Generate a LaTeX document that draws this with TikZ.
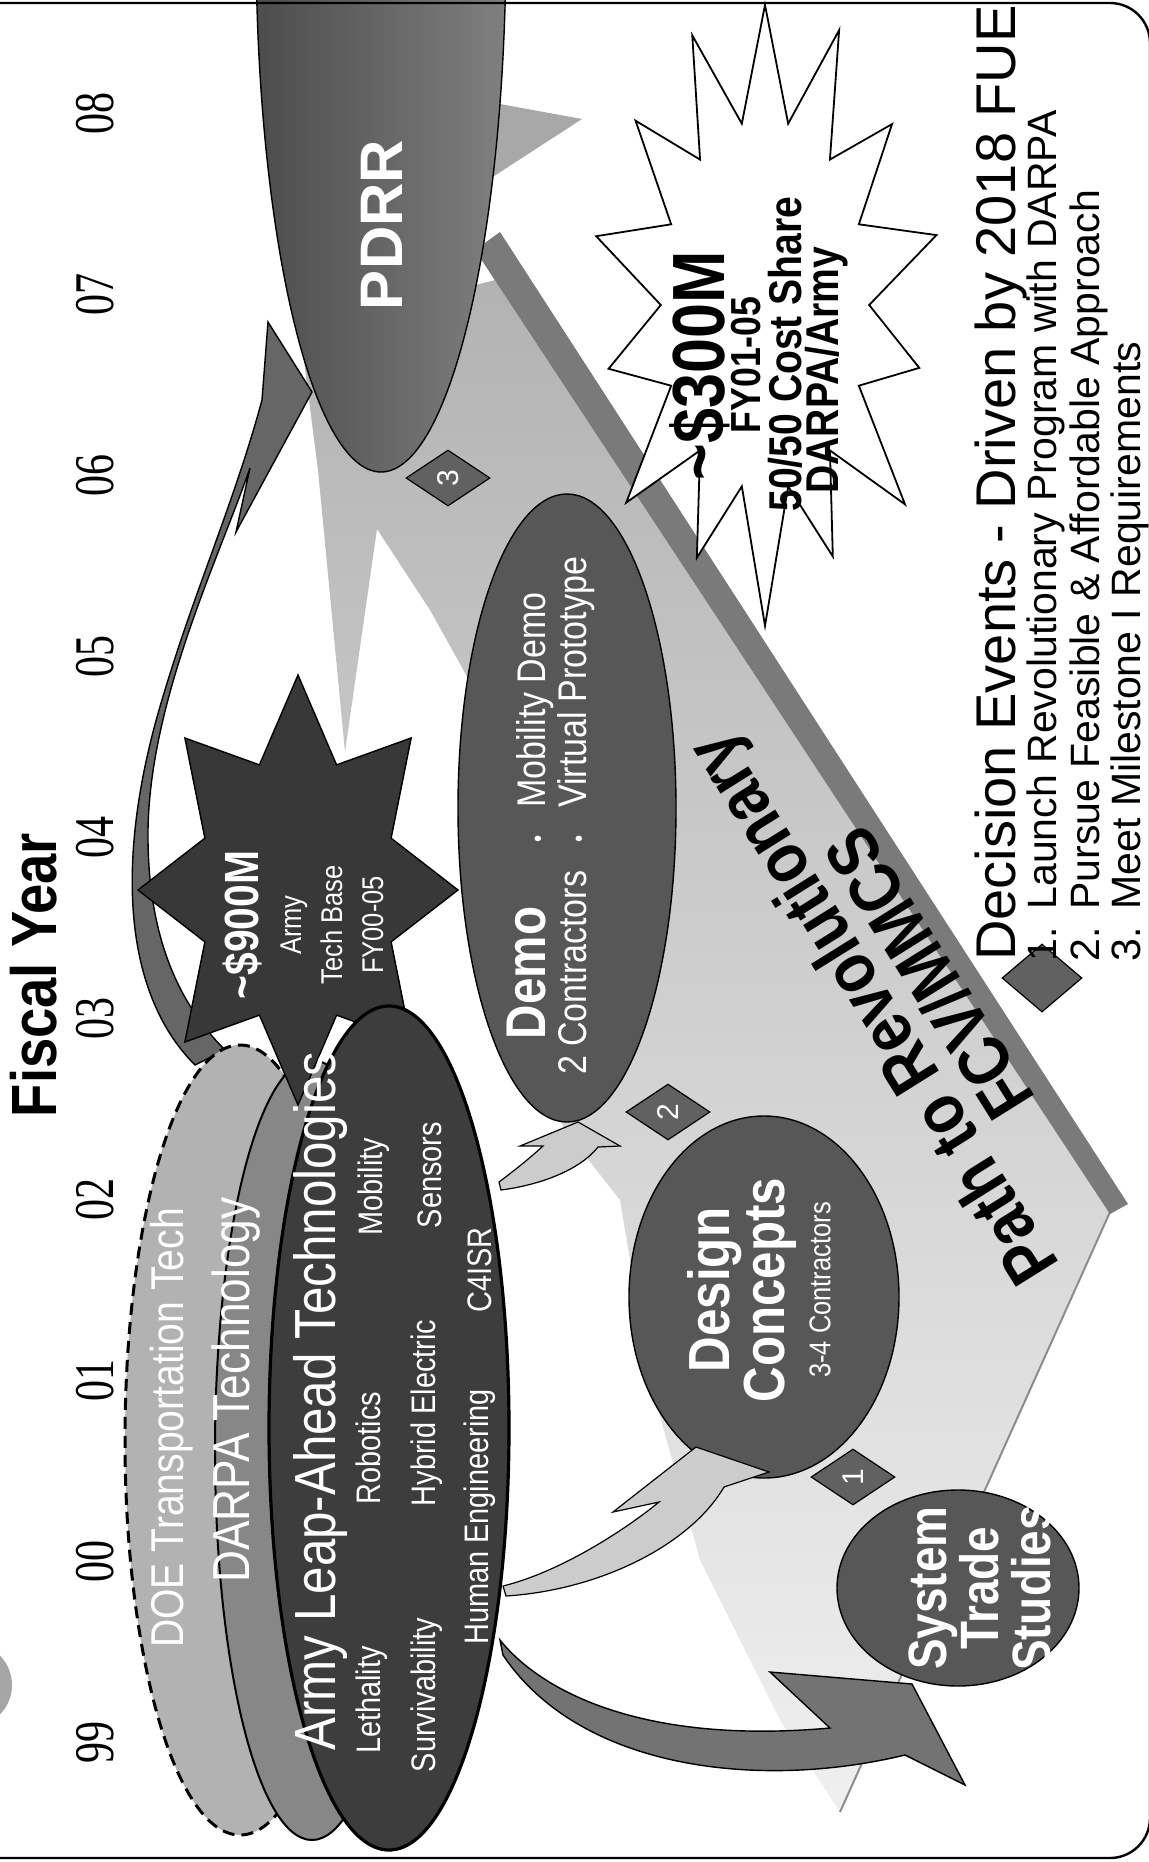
\documentclass[tikz,border=0pt]{standalone}
\usepackage{fontspec}
\setmainfont{Liberation Sans}
\newfontfamily\narrowsf{Liberation Sans}[FakeStretch=0.85]
\newfontfamily\yearfont{Liberation Serif}[FakeStretch=0.75]
\usetikzlibrary{shapes.geometric}
\newcommand\setfs[2]{\fontsize{#1}{#2}\selectfont}

\begin{document}
\begin{tikzpicture}[x=0.5pt, y=-0.5pt,
    lbl/.style={rotate=90, inner sep=0pt},
    wlbl/.style={lbl, text=white},
    oval/.style={draw=black, line width=0.7pt, fill=black!66},
    diam/.style={diamond, rotate=90, draw=black, line width=0.6pt, fill=black!62,
      minimum width=28pt, minimum height=42pt, inner sep=0pt, text=white,
      font=\setfs{15}{15}},
    darkflow/.style={draw=black, line width=0.7pt, fill=black!60},
    lightflow/.style={draw=black, line width=0.6pt, fill=black!20},
    declare function={rs(\k)=1-0.38*mod(\k,2)+0.07*sin(\k*83)*(1-mod(\k,2));}
  ]
  \useasboundingbox (0,0) rectangle (1148,1862);

  % path band
  \shade[top color=black!30, middle color=black!22, bottom color=black!6]
    (300,330) -- (495,280) -- (1110,1212) -- (840,1812) -- (780,1720) -- (700,1560)
    -- (650,1380) -- (620,1200) -- (565,1130) -- (500,1000) -- (480,700)
    -- (430,610) -- (377,529) -- (345,752) -- (318,470) -- cycle;
  \draw[black!45, line width=1pt] (1110,1212) -- (840,1812);
  \fill[black!52] (475,250) -- (500,232) -- (1128,1204) -- (1110,1214) -- cycle;
  \fill[black!34] (478,100) -- (582,119) -- (488,180) -- cycle;

  % arrow up to PDRR
  \draw[darkflow] (195,1065) .. controls (120,990) and (115,850) .. (165,690)
    .. controls (195,590) and (235,500) .. (262,400) -- (268,322) -- (312,392)
    -- (236,532) -- (250,468) .. controls (218,560) and (150,700) .. (148,830)
    .. controls (147,930) and (175,1000) .. (225,1050) -- cycle;

  \shade[draw=black, line width=0.7pt, left color=black!70, right color=black!50]
    (381,-60) ellipse [x radius=125, y radius=532];

  % $300M burst
  \draw[line width=0.9pt, fill=white] plot[samples at={0,...,27}, variable=\k]
    ({765+168*rs(\k)*cos(-90+\k*12.857)}, {305+300*rs(\k)*sin(-90+\k*12.857)}) -- cycle;

  % technology ellipses
  \draw[oval, fill=black!30, dash pattern=on 6pt off 3.5pt, line width=1.5pt]
    (240,1440) ellipse [x radius=115, y radius=395];
  \draw[oval, fill=black!47, line width=1pt] (312,1450) ellipse [x radius=97, y radius=390];
  \draw[line width=0.7pt, fill=black!78] plot[samples at={0,...,15}, variable=\k]
    ({298+160*(1-0.37*mod(\k,2))*cos(-90+\k*22.5)}, {890+215*(1-0.37*mod(\k,2))*sin(-90+\k*22.5)}) -- cycle;
  \draw[oval, fill=black!76, line width=1.6pt] (389,1428) ellipse [x radius=120, y radius=422];

  % phase ellipses
  \draw[oval] (567,808) ellipse [x radius=109, y radius=314];
  \draw[oval] (764,1297) ellipse [x radius=135, y radius=181];
  \draw[oval] (958,1588) ellipse [x radius=121, y radius=98];

  % arrows into phases
  \draw[darkflow, fill=black!55] (500,1640) .. controls (540,1690) and (640,1745) .. (830,1728)
    -- (770,1672) -- (912,1684) -- (965,1785) -- (905,1755)
    .. controls (760,1790) and (580,1770) .. (503,1655) -- cycle;
  \draw[lightflow] (503,1586) .. controls (560,1572) and (625,1530) .. (659,1502)
    -- (613,1512) -- (696,1447) -- (769,1472) -- (724,1487)
    .. controls (690,1545) and (600,1590) .. (506,1596) -- cycle;
  \draw[lightflow] (499,1182) .. controls (515,1170) and (530,1158) .. (543,1146)
    -- (520,1146) -- (578,1122) -- (620,1146) -- (598,1147)
    .. controls (580,1170) and (540,1185) .. (501,1190) -- cycle;

  % decision diamonds
  \node[diam] (ev1) at (853,1477) {1};
  \node[diam] (ev2) at (668,1112) {2};
  \node[diam] (ev3) at (448,478) {3};
  \node[diam, minimum width=34pt, minimum height=40pt] (evkey) at (1042,978) {};

  % labels
  \node[lbl, font=\narrowsf\bfseries\setfs{32}{34}] (fiscal) at (34,975) {Fiscal Year};
  \foreach \yr [count=\k from 0] in {99,00,01,02,03,04,05,06,07,08}
    \node[lbl, font=\yearfont\setfs{28}{30}] (fy\yr) at (95,{1742-180.9*\k}) {\yr};

  \node[wlbl, font=\bfseries\setfs{30}{32}] (pdrr) at (382,225) {PDRR};
  \node[wlbl, font=\narrowsf\setfs{23}{25}] (doe) at (172,1428) {DOE Transportation Tech};
  \node[wlbl, font=\narrowsf\setfs{26}{28}] (darpa) at (236,1390) {DARPA Technology};
  \node[wlbl, font=\narrowsf\setfs{29}{31}] (army) at (321,1401) {Army Leap-Ahead Technologies};
  \node[wlbl, font=\narrowsf\setfs{17}{19}] (tech1) at (372,1700) {Lethality};
  \node[wlbl, font=\narrowsf\setfs{17}{19}] (tech2) at (368,1448) {Robotics};
  \node[wlbl, font=\narrowsf\setfs{17}{19}] (tech3) at (374,1187) {Mobility};
  \node[wlbl, font=\narrowsf\setfs{17}{19}] (tech4) at (427,1695) {Survivability};
  \node[wlbl, font=\narrowsf\setfs{17}{19}] (tech5) at (427,1413) {Hybrid Electric};
  \node[wlbl, font=\narrowsf\setfs{17}{19}] (tech6) at (430,1175) {Sensors};
  \node[wlbl, font=\narrowsf\setfs{17}{19}] (tech7) at (480,1517) {Human Engineering};
  \node[wlbl, font=\narrowsf\setfs{17}{19}] (tech8) at (480,1270) {C4ISR};

  \node[wlbl, align=center, font=\narrowsf\setfs{15}{20.5}] (base900) at (303,925)
    {{\bfseries\setfs{24}{26}\textasciitilde\$900M}\\[1pt]Army\\Tech Base\\FY00-05};
  \node[wlbl, font=\narrowsf\setfs{20}{20}] (demotxt) at (553,816) {%
    \begin{tabular}{@{}c@{\hspace{14pt}}c@{\hspace{14pt}}l@{}}
      {\bfseries\setfs{28}{28}Demo} & {\setfs{12}{12}\textbullet} & Mobility Demo\\
      2 Contractors & {\setfs{12}{12}\textbullet} & Virtual Prototype
    \end{tabular}};
  \node[wlbl, align=center, font=\narrowsf\bfseries\setfs{29}{26}] (dctxt) at (759,1290)
    {Design\\Concepts\\[-3pt]{\mdseries\setfs{15}{17}3-4 Contractors}};
  \node[wlbl, align=center, font=\narrowsf\bfseries\setfs{27}{26}] (ststxt) at (980,1588)
    {System\\Trade\\Studies};
  \node[lbl, anchor=base, font=\narrowsf\bfseries\setfs{37}{37}] (t300) at (724,366)
    {\textasciitilde\$300M};
  \node[lbl, anchor=base, font=\narrowsf\bfseries\setfs{21}{21}] (t300fy) at (760,365) {FY01-05};
  \node[lbl, anchor=base, font=\narrowsf\bfseries\setfs{23}{23}] (t300share) at (801,354)
    {50/50 Cost Share};
  \node[lbl, anchor=base, font=\narrowsf\bfseries\setfs{23}{23}] (t300split) at (838,370)
    {DARPA/Army};
  \node[rotate=122, align=center, inner sep=0pt, font=\narrowsf\bfseries\setfs{36}{34}]
    (pathtxt) at (900,992) {Path to Revolutionary\\FCV/MMCS};
  \node[lbl, anchor=base west, font=\setfs{28}{30}] (decide) at (1015,961)
    {Decision Events - Driven by 2018 FUE};
  \node[lbl, anchor=base west, font=\setfs{20.5}{22}] (ev1txt) at (1056,962)
    {1.\hspace{9pt}Launch Revolutionary Program with DARPA};
  \node[lbl, anchor=base west, font=\setfs{20.5}{22}] (ev2txt) at (1099,962)
    {2.\hspace{9pt}Pursue Feasible \& Affordable Approach};
  \node[lbl, anchor=base west, font=\setfs{20.5}{22}] (ev3txt) at (1140,962)
    {3.\hspace{9pt}Meet Milestone I Requirements};

  % frame
  \fill[black!35] (-30,1685) circle [radius=42];
  \draw[line width=1.2pt, rounded corners=20pt] (-40,3) rectangle (1150,1858);
\end{tikzpicture}
\end{document}
